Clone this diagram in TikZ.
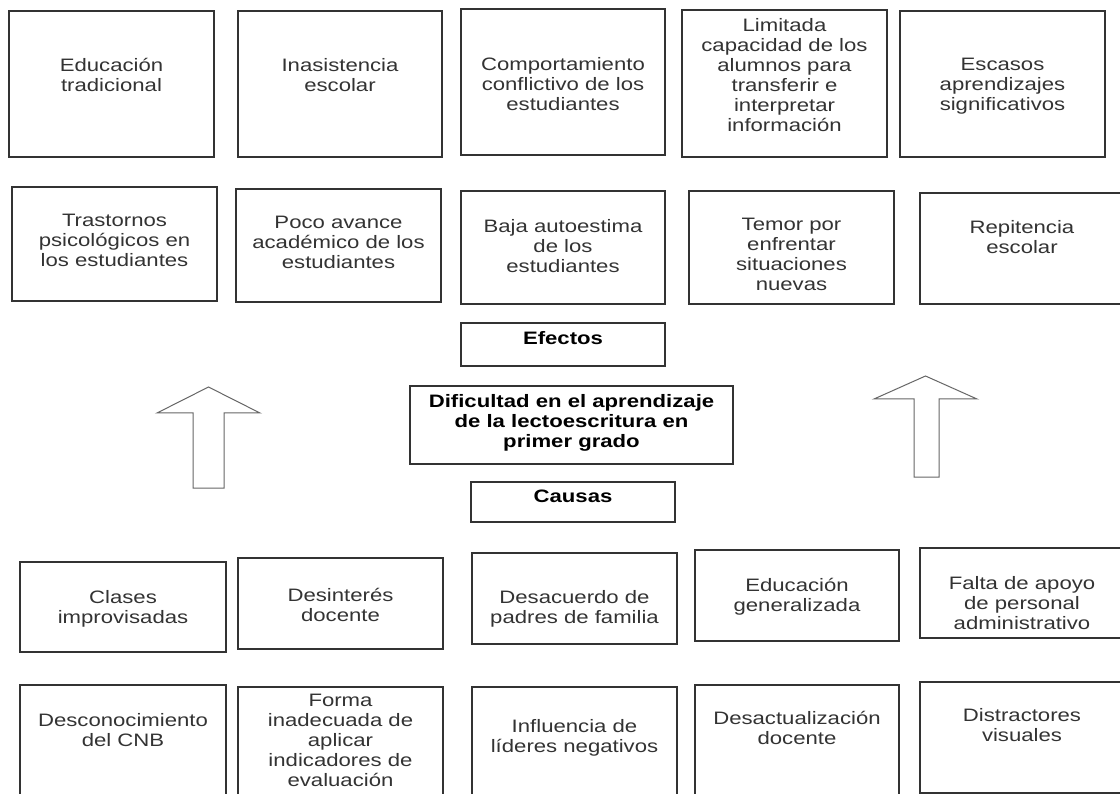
\documentclass[tikz,border=0pt]{standalone}
\usepackage{fontspec}
\setmainfont{Liberation Sans}[FakeStretch=1.23]
\tikzset{
  box/.style={draw=black!80, line width=1.1pt},
  txt/.style={anchor=north, align=center, inner sep=0pt, text=black!80,
    font=\fontsize{18}{20}\selectfont, execute at begin node=\strut},
  btxt/.style={txt, text=black, font=\fontsize{18}{20}\selectfont\bfseries},
  blockarrow/.style={draw=black!60, line width=1pt, line join=miter, fill=white}
}
\newcommand{\tb}[7]{%
  \draw[box] (#2,#3) rectangle (#4,#5);
  \node[txt] (#1) at ({(#2+#4)/2},#6) {#7};}
\begin{document}
\begin{tikzpicture}[x=1pt,y=-1pt]
\useasboundingbox (0,0) rectangle (1120,794);
\clip (0,0) rectangle (1120,794);
\fill[white] (0,0) rectangle (1120,794);
% Row 1
\tb{a1}{9}{11}{214}{157}{58}{Educación\\tradicional}
\tb{a2}{238}{11}{442}{157}{58}{Inasistencia\\escolar}
\tb{a3}{461}{9}{665}{155}{57}{Comportamiento\\conflictivo de los\\estudiantes}
\tb{a4}{682}{10}{887}{157}{18}{Limitada\\capacidad de los\\alumnos para\\transferir e\\interpretar\\información}
\tb{a5}{900}{11}{1105}{157}{58}{Escasos\\aprendizajes\\significativos}
% Row 2
\tb{b1}{12}{187}{217}{301}{214}{Trastornos\\psicológicos en\\los estudiantes}
\tb{b2}{236}{189}{441}{302}{216}{Poco avance\\académico de los\\estudiantes}
\tb{b3}{461}{191}{665}{304}{219}{Baja autoestima\\de los\\estudiantes}
\tb{b4}{689}{191}{894}{304}{218}{Temor por\\enfrentar\\situaciones\\nuevas}
\tb{b5}{920}{193}{1124}{304}{220}{Repitencia\\escolar}
% Middle
\draw[box] (461,323) rectangle (665,366);
\node[btxt] (efectos) at (563,330) {Efectos};
\draw[box] (410,386) rectangle (733,464);
\node[btxt] (problema) at (571.5,394) {Dificultad en el aprendizaje\\de la lectoescritura en\\primer grado};
\draw[box] (471,482) rectangle (675,522);
\node[btxt] (causas) at (573,488) {Causas};
% Block arrows
\draw[blockarrow] (193,488) -- (193,413) -- (157,413) -- (208.5,387) -- (260,413) -- (224,413) -- (224,488) -- cycle;
\draw[blockarrow] (914,477) -- (914,399) -- (874,399) -- (925.5,376) -- (977,399) -- (939,399) -- (939,477) -- cycle;
% Row 3
\tb{c1}{20}{562}{226}{652}{590}{Clases\\improvisadas}
\tb{c2}{238}{558}{443}{649}{588}{Desinterés\\docente}
\tb{c3}{472}{553}{677}{644}{590}{Desacuerdo de\\padres de familia}
\tb{c4}{695}{550}{899}{641}{578}{Educación\\generalizada}
\tb{c5}{920}{548}{1124}{638}{576}{Falta de apoyo\\de personal\\administrativo}
% Row 4
\tb{d1}{20}{685}{226}{800}{713}{Desconocimiento\\del CNB}
\tb{d2}{238}{687}{443}{800}{694}{Forma\\inadecuada de\\aplicar\\indicadores de\\evaluación}
\tb{d3}{472}{687}{677}{800}{719}{Influencia de\\líderes negativos}
\tb{d4}{695}{685}{899}{800}{711}{Desactualización\\docente}
\tb{d5}{920}{682}{1124}{793}{708}{Distractores\\visuales}
\end{tikzpicture}
\end{document}
